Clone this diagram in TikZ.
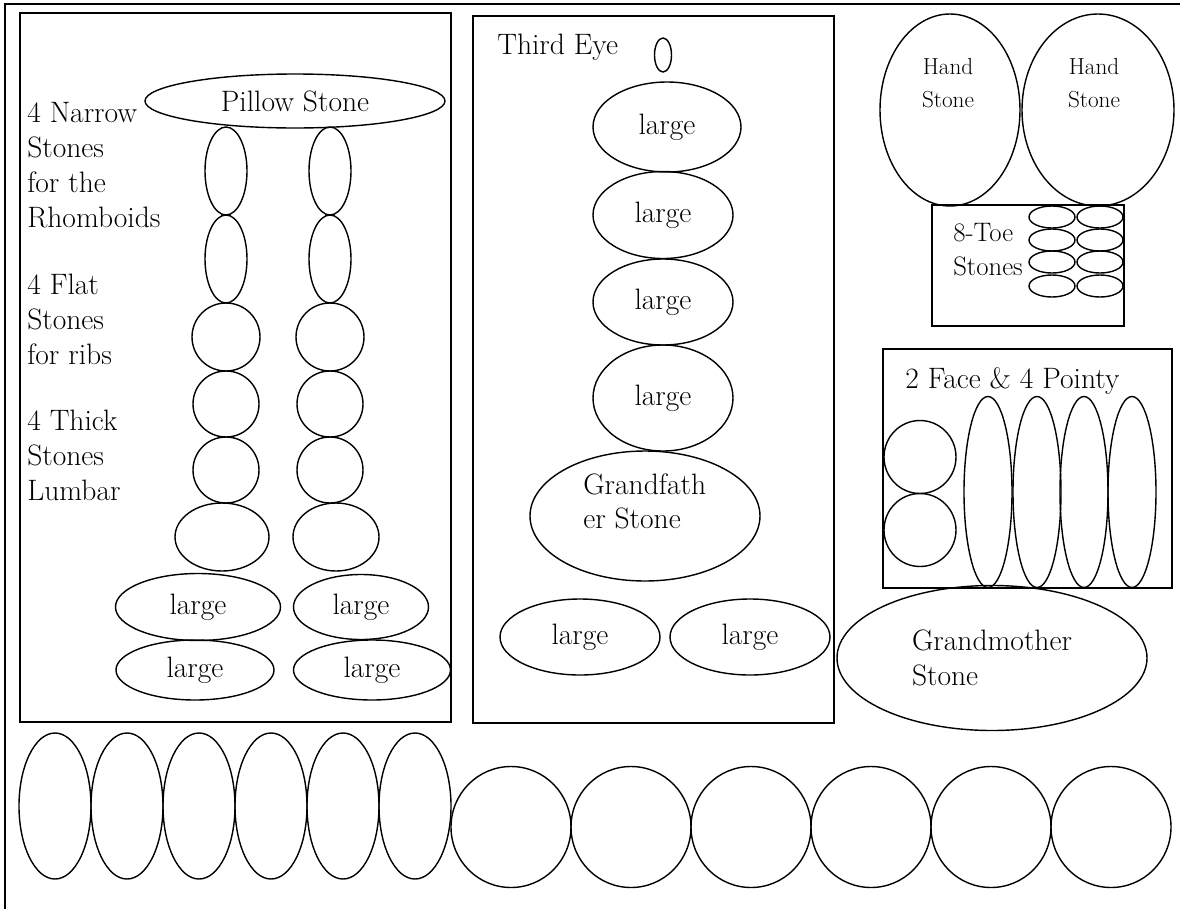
\documentclass[tikz,border=0pt]{standalone}
\usetikzlibrary{positioning,shapes.geometric}

\begin{document}
\begin{tikzpicture}[
  x=0.025cm, y=-0.025cm,
  node distance=0pt,
  stone/.style={draw,ellipse,line width=1pt,inner sep=0pt,outer sep=0pt,font=\fontsize{21}{25}\selectfont},
  wh/.style 2 args={minimum width=#1*0.025cm,minimum height=#2*0.025cm},
  areabox/.style={draw,line width=1.3pt},
  note/.style={align=left,inner sep=0pt,font=\fontsize{21}{24.8}\selectfont},
  handnote/.style={align=center,inner sep=0pt,font=\fontsize{16.5}{23.4}\selectfont}
]
\useasboundingbox (0,0) rectangle (1180,909);
\draw[line width=1.6pt] (1180,4) -- (5,4) -- (5,909);

% spine
\draw[areabox] (20,13) rectangle (451,722);
\node[stone,wh={300}{54}] (pillow) at (295,101) {Pillow Stone};
\node[note,anchor=north west] (narrowtxt) at (27,102) {4 Narrow\\Stones\\for the\\Rhomboids};
\node[note,anchor=north west] (flattxt) at (27,274) {4 Flat\\Stones\\for ribs};
\node[note,anchor=north west] (thicktxt) at (27,410) {4 Thick\\Stones\\Lumbar};

\node[stone,wh={42}{88}] (narrowA1) at (226,171) {};
\node[stone,wh={42}{88},below=of narrowA1] (narrowA2) {};
\node[stone,wh={68}{68},below=of narrowA2] (flatA1) {};
\node[stone,wh={66}{66},below=of flatA1] (flatA2) {};
\node[stone,wh={66}{66},below=of flatA2] (thickA1) {};
\node[stone,wh={94}{68},below=of thickA1,xshift=-0.1cm] (thickA2) {};

\node[stone,wh={42}{88}] (narrowB1) at (330,171) {};
\node[stone,wh={42}{88},below=of narrowB1] (narrowB2) {};
\node[stone,wh={68}{68},below=of narrowB2] (flatB1) {};
\node[stone,wh={66}{66},below=of flatB1] (flatB2) {};
\node[stone,wh={66}{66},below=of flatB2] (thickB1) {};
\node[stone,wh={86}{68},below=of thickB1,xshift=0.15cm] (thickB2) {};

\node[stone,wh={165}{67}] (largeA1) at (198,607) {large};
\node[stone,wh={158}{60}] (largeA2) at (195,670) {large};
\node[stone,wh={135}{65}] (largeB1) at (361,607) {large};
\node[stone,wh={157}{60}] (largeB2) at (372,670) {large};

% centre line
\draw[areabox] (473,16) rectangle (834,723);
\node[note,anchor=west] (thirdtxt) at (497,47) {Third Eye};
\node[stone,wh={17}{34}] (thirdeye) at (663,55) {};
\node[stone,wh={148}{90}] (midL1) at (667,127) {large};
\node[stone,wh={140}{87}] (midL2) at (663,215) {large};
\node[stone,wh={140}{86}] (midL3) at (663,302) {large};
\node[stone,wh={140}{106}] (midL4) at (663,398) {large};
\node[stone,wh={230}{130}] (grandfather) at (645,516) {};
\node[note,anchor=north west] (grandfathertxt) at (583,473) {Grandfath\\er Stone};
\node[stone,wh={160}{76}] (midL5) at (580,637) {large};
\node[stone,wh={160}{76}] (midL6) at (750,637) {large};

% hands and toes
\node[stone,wh={140}{192}] (handL) at (950,110) {};
\node[stone,wh={152}{192}] (handR) at (1098,110) {};
\node[handnote] (handLtxt) at (948,83) {Hand\\Stone};
\node[handnote] (handRtxt) at (1094,83) {Hand\\Stone};

\draw[areabox] (932,205) rectangle (1124,326);
\node[note,anchor=north west,font=\fontsize{19}{24}\selectfont] (toetxt) at (953,223) {8-Toe\\Stones};
\foreach \r/\y in {1/217,2/240,3/262,4/286}{
  \node[stone,wh={46}{22}] (toeA\r) at (1052,\y) {};
  \node[stone,wh={46}{22}] (toeB\r) at (1100,\y) {};
}

% face and pointy
\draw[areabox] (883,349) rectangle (1172,588);
\node[note,anchor=base west] (facetxt) at (905,388) {2 Face \& 4 Pointy};
\node[stone,wh={72}{73}] (faceA) at (920,457) {};
\node[stone,wh={72}{73}] (faceB) at (920,530) {};
\foreach \i/\x in {1/988,2/1037,3/1084,4/1132}
  \node[stone,wh={48}{191}] (pointy\i) at (\x,492) {};

\node[stone,wh={310}{145},align=left] (grandmother) at (992,658) {Grandmother\\Stone};

% bottom row
\foreach \i in {0,...,5}
  \node[stone,wh={72}{146}] (rowN\i) at (55+72*\i,806) {};
\foreach \i in {0,...,5}
  \node[stone,wh={120}{121}] (rowC\i) at (511+120*\i,827) {};
\end{tikzpicture}
\end{document}
